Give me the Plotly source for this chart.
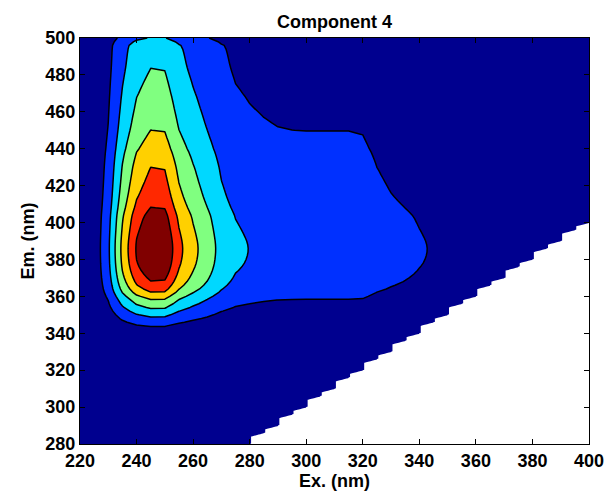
import numpy as np
import plotly.graph_objects as go

# Excitation / emission wavelength grids (nm)
ex = list(range(220, 401, 5))
em = list(range(280, 501, 2))

# PARAFAC component 4: excitation loading (one value per ex wavelength)
ex_loading = [
    0.014, 0.035, 0.182, 0.427, 0.609, 0.700, 0.693, 0.526, 0.427, 0.350,
    0.266, 0.217, 0.198, 0.186, 0.178, 0.175, 0.174, 0.174, 0.174, 0.174,
    0.170, 0.140, 0.126, 0.116, 0.105, 0.096, 0.084, 0.070, 0.060, 0.049,
    0.042, 0.035, 0.028, 0.025, 0.021, 0.018, 0.014,
]

# PARAFAC component 4: emission loading (one value per em wavelength)
em_loading = [
    0.004, 0.004, 0.004, 0.004, 0.004, 0.005, 0.005, 0.005, 0.005, 0.006,  # 280-298
    0.006, 0.006, 0.007, 0.007, 0.008, 0.008, 0.009, 0.010, 0.011, 0.012,  # 300-318
    0.013, 0.015, 0.017, 0.020, 0.023, 0.027, 0.032, 0.040, 0.050, 0.065,  # 320-338
    0.085, 0.113, 0.150, 0.205, 0.262, 0.320, 0.383, 0.446, 0.505, 0.560,  # 340-358
    0.630, 0.705, 0.765, 0.812, 0.852, 0.885, 0.914, 0.939, 0.959, 0.975,  # 360-378
    0.986, 0.994, 0.999, 1.000, 0.997, 0.990, 0.980, 0.969, 0.957, 0.945,  # 380-398
    0.933, 0.921, 0.905, 0.883, 0.860, 0.841, 0.824, 0.808, 0.794, 0.781,  # 400-418
    0.769, 0.757, 0.746, 0.735, 0.725, 0.714, 0.701, 0.687, 0.673, 0.658,  # 420-438
    0.640, 0.626, 0.612, 0.598, 0.585, 0.572, 0.561, 0.551, 0.542, 0.533,  # 440-458
    0.524, 0.515, 0.507, 0.499, 0.491, 0.482, 0.474, 0.466, 0.458, 0.450,  # 460-478
    0.442, 0.434, 0.427, 0.421, 0.416, 0.411, 0.406, 0.400, 0.390, 0.350,  # 480-498
    0.295,                                                                  # 500
]

# Contour levels and jet-style band colours
levels = dict(start=0.1, end=0.6, size=0.1)
band_colors = ["#00008F", "#0030FF", "#00D8FF", "#80FF80",
               "#FFD000", "#FF2800", "#800000"]

title_text = "Component 4"
x_title = "Ex. (nm)"
y_title = "Em. (nm)"

# ---- build the EEM surface -------------------------------------------------
ex_arr = np.array(ex, dtype=float)
em_arr = np.array(em, dtype=float)
z = np.outer(em_loading, ex_loading)
EX, EM = np.meshgrid(ex_arr, em_arr)
z[EM < EX] = np.nan  # Rayleigh-scatter region removed
z_list = [[None if np.isnan(v) else float(v) for v in row] for row in z]

# outline of the removed (NaN) region, following the data grid
em_step = em_arr[1] - em_arr[0]
first_valid = [em_arr[em_arr >= x].min() for x in ex_arr]
cols = [i for i, x in enumerate(ex_arr) if x >= em_arr[0]]
mx, my = [ex_arr[cols[0]]], [em_arr[0]]
for k, i in enumerate(cols):
    if k > 0:
        mx.append(ex_arr[i]); my.append(first_valid[i - 1] + em_step)
    mx.append(ex_arr[i]); my.append(first_valid[i])
mx.append(ex_arr[cols[-1]]); my.append(em_arr[0])

n = len(band_colors) - 1
colorscale = [[k / n, c] for k, c in enumerate(band_colors)]

fig = go.Figure()
fig.add_trace(go.Contour(
    x=ex, y=em, z=z_list,
    autocontour=False,
    contours=dict(coloring="fill", showlines=True, **levels),
    colorscale=colorscale,
    line=dict(color="black", width=1.5, smoothing=0),
    showscale=False,
    hoverinfo="skip",
))
fig.add_trace(go.Scatter(
    x=mx, y=my, mode="lines", fill="toself",
    fillcolor="white", line=dict(width=0, color="white"),
    hoverinfo="skip", showlegend=False,
))

font_main = dict(family="Liberation Sans, Arial, sans-serif", size=18,
                 color="black", weight="bold")

axis_common = dict(
    showline=True, linecolor="black", linewidth=1, mirror="allticks",
    ticks="inside", ticklen=5, tickwidth=1, tickcolor="black",
    showgrid=False, zeroline=False, tickfont=font_main, automargin=False,
)

fig.update_layout(
    width=610, height=495,
    margin=dict(l=80, r=21, t=38, b=51),
    paper_bgcolor="white", plot_bgcolor="white",
    showlegend=False,
    title=dict(text=title_text, font=font_main, x=0.5, xref="paper",
               xanchor="center", y=1 - 22 / 495, yref="container",
               yanchor="middle", automargin=False),
    xaxis=dict(range=[220, 400], tick0=220, dtick=20,
               title=dict(text=x_title, font=font_main, standoff=4),
               **axis_common),
    yaxis=dict(range=[280, 500], tick0=280, dtick=20,
               title=dict(text=y_title, font=font_main, standoff=6),
               **axis_common),
)

fig.write_html("out.html")
